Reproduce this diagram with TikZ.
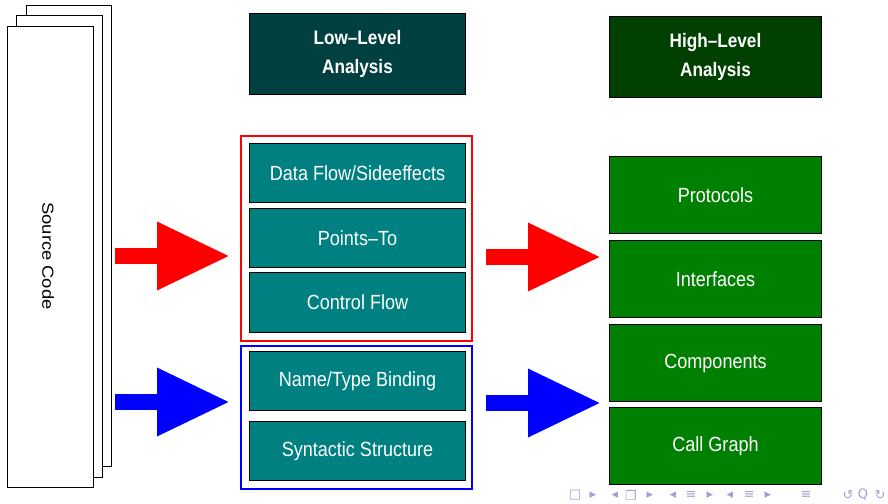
\documentclass[tikz,border=0pt]{standalone}
\usepackage{fontspec}
\setmainfont{Liberation Sans}[FakeStretch=0.88]
\newfontfamily\srcfont{Liberation Sans}[FakeStretch=1.15]
\newfontfamily\navfont{DejaVu Sans}
\usetikzlibrary{arrows.meta}
\definecolor{lowteal}{HTML}{008080}
\definecolor{lowhead}{HTML}{004040}
\definecolor{highgreen}{HTML}{008000}
\definecolor{highhead}{HTML}{004000}
\definecolor{navcol}{RGB}{160,160,210}
\begin{document}
\begin{tikzpicture}[x=1pt,y=-1pt,
  sheet/.style={draw=black, fill=white, line width=0.9pt, anchor=north west, inner sep=0pt},
  basebox/.style={draw=black, line width=1pt, anchor=north west, inner sep=0pt, text=white,
     font=\fontsize{20.5}{24}\selectfont, align=center},
  lowbox/.style={basebox, fill=lowteal, minimum width=216pt},
  highbox/.style={basebox, fill=highgreen, minimum width=212pt},
  headbox/.style={basebox, font=\bfseries\fontsize{19.5}{29.5}\selectfont},
  frame/.style={line width=1.5pt, anchor=north west, inner sep=0pt, minimum width=231pt},
  bigarrow/.style={line width=16pt, -{Triangle[length=73pt,width=64pt]}},
  nav/.style={text=navcol, font=\navfont\fontsize{13}{15}\selectfont, inner sep=0pt}
]
\useasboundingbox (0,0) rectangle (888,503);
% source code stack
\node[sheet, minimum width=85pt, minimum height=461pt] (sheetC) at (26,5) {};
\node[sheet, minimum width=86pt, minimum height=462pt] (sheetB) at (16,15) {};
\node[sheet, minimum width=86pt, minimum height=461pt] (sheetA) at (7,26) {};
\node[rotate=-90, font=\srcfont\fontsize{16}{19}\selectfont] (src) at (48,256) {Source Code};

% headers
\node[headbox, fill=lowhead, minimum width=216pt, minimum height=81pt] (lowh) at (249,13) {Low--Level\\Analysis};
\node[headbox, fill=highhead, minimum width=212pt, minimum height=81pt] (highh) at (609,16) {High--Level\\Analysis};

% frames
\node[frame, draw=red, minimum height=205pt] (redframe) at (240,135) {};
\node[frame, draw=blue, minimum height=143pt] (blueframe) at (240,345) {};

% low-level boxes
\node[lowbox, minimum height=59pt] (dataflow) at (249,143) {Data Flow/Sideeffects};
\node[lowbox, minimum height=59pt] (pointsto) at (249,208) {Points--To};
\node[lowbox, minimum height=60pt] (ctrlflow) at (249,272) {Control Flow};
\node[lowbox, minimum height=59pt] (namebind) at (249,351) {Name/Type Binding};
\node[lowbox, minimum height=59pt] (syntax) at (249,421) {Syntactic Structure};

% high-level boxes
\node[highbox, minimum height=77pt] (protocols) at (609,156) {Protocols};
\node[highbox, minimum height=77pt] (interfaces) at (609,240) {Interfaces};
\node[highbox, minimum height=77pt] (components) at (609,324) {Components};
\node[highbox, minimum height=77pt] (callgraph) at (609,407) {Call Graph};

% arrows
\coordinate (ra1s) at ([xshift=3pt]sheetC.east |- 0,256);
\coordinate (ra1e) at ([xshift=-10pt]redframe.west |- 0,256);
\coordinate (ba1s) at ([xshift=3pt]sheetC.east |- 0,402);
\coordinate (ba1e) at ([xshift=-10pt]blueframe.west |- 0,402);
\coordinate (ra2s) at ([xshift=13pt]redframe.east |- 0,257);
\coordinate (ra2e) at ([xshift=-8pt]interfaces.west |- 0,257);
\coordinate (ba2s) at ([xshift=13pt]blueframe.east |- 0,403);
\coordinate (ba2e) at ([xshift=-8pt]components.west |- 0,403);
\draw[bigarrow, red] (ra1s) -- (ra1e);
\draw[bigarrow, blue] (ba1s) -- (ba1e);
\draw[bigarrow, red] (ra2s) -- (ra2e);
\draw[bigarrow, blue] (ba2s) -- (ba2e);

% navigation symbols
\node[nav] (n1) at (575,495) {□};
\node[nav] (n2) at (593,495) {▸};
\node[nav] (n3) at (615,495) {◂};
\node[nav] (n4) at (631,495) {❐};
\node[nav] (n5) at (650,495) {▸};
\node[nav] (n6) at (673,495) {◂};
\node[nav] (n7) at (691,495) {≡};
\node[nav] (n8) at (710,495) {▸};
\node[nav] (n9) at (730,495) {◂};
\node[nav] (n10) at (749,495) {≡};
\node[nav] (n11) at (768,495) {▸};
\node[nav] (n12) at (806,495) {≡};
\node[nav] (n13) at (848,495) {↺};
\node[nav] (n14) at (863,495) {Q};
\node[nav] (n15) at (880,495) {↻};
\end{tikzpicture}
\end{document}
